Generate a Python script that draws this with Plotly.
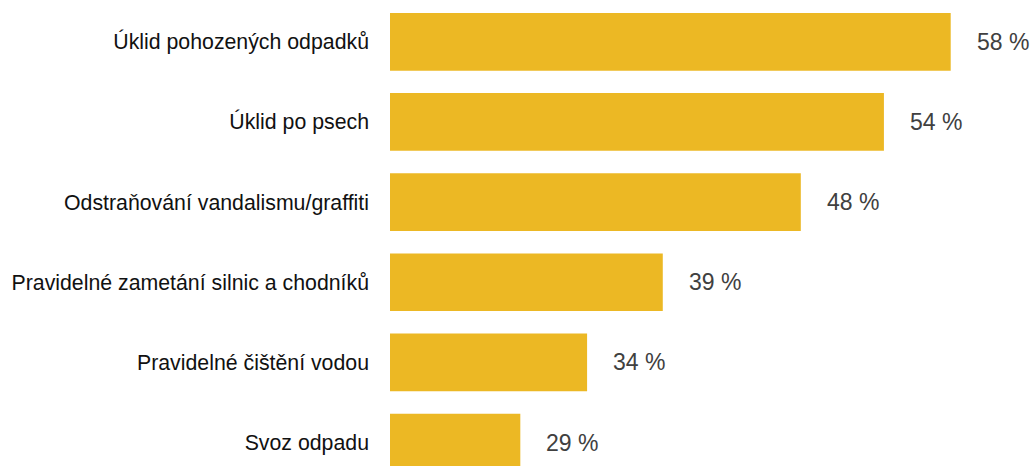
import plotly.graph_objects as go

categories = [
    "Úklid pohozených odpadků",
    "Úklid po psech",
    "Odstraňování vandalismu/graffiti",
    "Pravidelné zametání silnic a chodníků",
    "Pravidelné čištění vodou",
    "Svoz odpadu",
]
values = [58.0, 53.5, 47.9, 38.6, 33.5, 29.0]
value_labels = ["58 %", "54 %", "48 %", "39 %", "34 %", "29 %"]

BAR = "#ECB824"
FONT = "Liberation Sans, Arial, sans-serif"

fig = go.Figure(
    go.Bar(
        x=values,
        y=categories,
        orientation="h",
        marker=dict(color=BAR, line=dict(width=0)),
        width=0.72,
        hoverinfo="skip",
    )
)

for v, c, t in zip(values, categories, value_labels):
    fig.add_annotation(
        x=v, y=c, text=t, showarrow=False,
        xanchor="left", yanchor="middle", xshift=24,
        font=dict(family=FONT, size=23, color="#404040"),
    )

fig.update_layout(
    width=1031, height=466,
    margin=dict(l=390, r=0, t=0, b=0),
    paper_bgcolor="white", plot_bgcolor="white",
    showlegend=False,
    xaxis=dict(range=[20.22, 63.41], visible=False, fixedrange=True),
    yaxis=dict(
        type="category",
        categoryorder="array", categoryarray=categories,
        range=[5.293, -0.522],
        showgrid=False, zeroline=False, showline=False,
        ticks="", ticklabelstandoff=20, fixedrange=True,
        tickfont=dict(family=FONT, size=21.3, color="#111111"),
    ),
)

fig.write_html(
    "out.html",
    config={"displayModeBar": False},
    post_script="document.body.style.margin='0px';document.body.style.overflow='hidden';",
)
